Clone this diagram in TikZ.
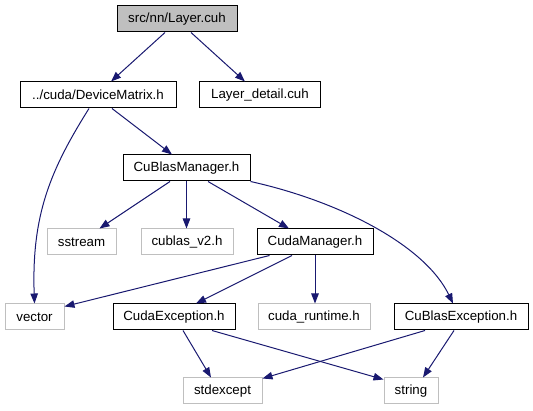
\documentclass[tikz,border=0pt]{standalone}
\usepackage{fontspec}
\setmainfont{Liberation Sans}
\usetikzlibrary{arrows.meta}
\definecolor{edgeblue}{HTML}{191970}
\definecolor{boxgray}{HTML}{BFBFBF}
\begin{document}
\begin{tikzpicture}[x=1pt,y=-1pt,
  filebox/.style={draw=black, line width=1pt, minimum height=26pt, inner sep=0pt,
    font=\fontsize{13.3}{16}\selectfont, text=black},
  sysbox/.style={draw=boxgray, line width=1pt, minimum height=26pt, inner sep=0pt,
    font=\fontsize{13.3}{16}\selectfont, text=black},
  edge/.style={draw=edgeblue, line width=1pt, -{Triangle[length=10pt,width=7.5pt,fill=edgeblue]}}]
\useasboundingbox (0,0) rectangle (533,411);
% nodes
\node[filebox, fill=boxgray, minimum width=120pt] (layer) at (177,19) {src/nn/Layer.cuh};
\node[filebox, minimum width=156pt] (dm) at (98,95) {../cuda/DeviceMatrix.h};
\node[filebox, minimum width=121pt] (ld) at (260,95) {Layer\_detail.cuh};
\node[filebox, minimum width=127pt] (cbm) at (186.5,168) {CuBlasManager.h};
\node[sysbox, minimum width=69pt] (sstream) at (81.5,242) {sstream};
\node[sysbox, minimum width=92pt] (cublas) at (187,242) {cublas\_v2.h};
\node[filebox, minimum width=116pt] (cm) at (315,242) {CudaManager.h};
\node[sysbox, minimum width=59pt] (vector) at (34.5,317) {vector};
\node[filebox, minimum width=122pt] (ce) at (174,317) {CudaException.h};
\node[sysbox, minimum width=112pt] (cudart) at (314,317) {cuda\_runtime.h};
\node[filebox, minimum width=134pt] (cbe) at (461,317) {CuBlasException.h};
\node[sysbox, minimum width=79pt] (stdexcept) at (222.5,391) {stdexcept};
\node[sysbox, minimum width=54pt] (string) at (411,391) {string};
% edges
\draw[edge] ([xshift=-12pt]layer.south) -- ([xshift=13pt]dm.north);
\draw[edge] ([xshift=14pt]layer.south) -- ([xshift=-15pt]ld.north);
\draw[edge] ([xshift=-9pt]dm.south) .. controls +(-39,62) and +(-3,-88) .. (vector.north);
\draw[edge] ([xshift=14pt]dm.south) -- ([xshift=-14.5pt]cbm.north);
\draw[edge] ([xshift=-16.5pt]cbm.south) -- ([xshift=18pt]sstream.north);
\draw[edge] (cbm.south) -- (cbm.south |- cublas.north);
\draw[edge] ([xshift=21.5pt]cbm.south) -- ([xshift=-26pt]cm.north);
\draw[edge] (cbm.south east) .. controls +(90,20) and +(-28,-58) .. ([xshift=-8pt]cbe.north);
\draw[edge] ([xshift=13pt]cm.south west) -- ([yshift=-3pt]vector.north east);
\draw[edge] ([xshift=-23pt]cm.south) -- ([xshift=22pt]ce.north);
\draw[edge] (cm.south) -- (cm.south |- cudart.north);
\draw[edge] ([xshift=9pt]ce.south) -- ([xshift=-11.5pt]stdexcept.north);
\draw[edge] ([xshift=38pt]ce.south) -- ([yshift=-2pt]string.north west);
\draw[edge] ([xshift=-36pt]cbe.south) -- ([yshift=-1pt]stdexcept.north east);
\draw[edge] ([xshift=-7pt]cbe.south) -- ([xshift=12pt]string.north);
\end{tikzpicture}
\end{document}
